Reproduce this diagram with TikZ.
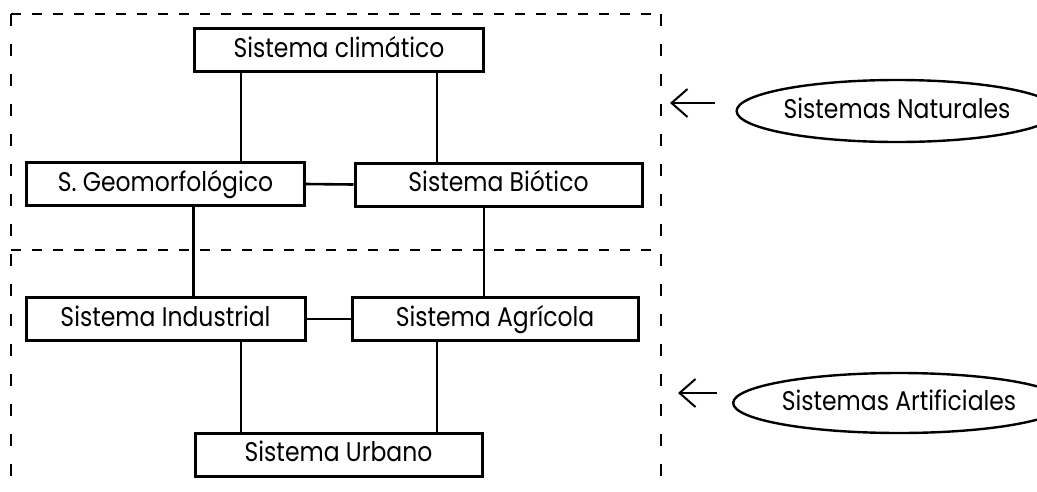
\documentclass[tikz,border=0pt]{standalone}
\usepackage{fontspec}
\setmainfont[FakeStretch=0.87]{Poppins}
\usetikzlibrary{arrows.meta,shapes.geometric}
\begin{document}
\begin{tikzpicture}[x=1pt,y=-1pt,
  txt/.style={font=\fontsize{27}{29}\selectfont,text height=19pt,text depth=5pt},
  box/.style={txt,draw,line width=3pt,minimum height=43pt,inner sep=0pt},
  link/.style={line width=2.6pt},
  hdash/.style={line width=1.8pt,dash pattern=on 10pt off 11pt},
  vdash/.style={line width=1.8pt,dash pattern=on 12pt off 18pt},
  oval/.style={txt,draw,ellipse,line width=2.4pt,inner sep=0pt},
  pointer/.style={line width=2pt,-{Straight Barb[length=16pt,width=28pt,line width=2pt]}}]
\useasboundingbox[fill=white] (0,0) rectangle (1037,491);
% frame
\coordinate (tl) at (11,14);
\coordinate (tr) at (661,14);
\coordinate (bl) at (11,491);
\coordinate (br) at (661,491);
\coordinate (ml) at (11,250);
\coordinate (mr) at (661,250);
\draw[hdash] (tl) -- (tr);
\draw[hdash] (ml) -- (mr);
\draw[vdash] (tl) -- (bl);
\draw[vdash] (tr) -- (br);
% boxes
\node[box,minimum width=289pt] (clim) at (339,50) {Sistema climático};
\node[box,minimum width=278pt] (geo) at (165.5,184) {S. Geomorfológico};
\node[box,minimum width=287pt] (bio) at (498.5,184.5) {Sistema Biótico};
\node[box,minimum width=279pt] (ind) at (165.5,319) {Sistema Industrial};
\node[box,minimum width=286pt] (agr) at (495,319) {Sistema Agrícola};
\node[box,minimum width=287pt] (urb) at (338.5,454.5) {Sistema Urbano};
% links
\draw[link] ([xshift=-98pt]clim.south) -- ([xshift=-98pt]clim.south |- geo.north);
\draw[link] ([xshift=98pt]clim.south) -- ([xshift=98pt]clim.south |- bio.north);
\draw[link] (geo.east) -- (bio.west);
\draw[link] ([xshift=28pt]geo.south) -- ([xshift=28pt]geo.south |- ind.north);
\draw[link] ([xshift=-14.5pt]bio.south) -- ([xshift=-14.5pt]bio.south |- agr.north);
\draw[link] (ind.east) -- (agr.west);
\draw[link] ([xshift=-97.5pt]urb.north) -- ([xshift=-97.5pt]urb.north |- ind.south);
\draw[link] ([xshift=98.5pt]urb.north) -- ([xshift=98.5pt]urb.north |- agr.south);
% labels
\node[oval,minimum width=278pt,minimum height=62pt] (nat) at (897,111) {Sistemas Naturales};
\node[oval,minimum width=274pt,minimum height=60pt] (art) at (899,403) {Sistemas Artificiales};
\coordinate (natTip) at (670,103);
\coordinate (artTip) at (678,393);
\draw[pointer,shorten <=20pt] (nat.west |- natTip) -- (natTip);
\draw[pointer,shorten <=15pt] (art.west |- artTip) -- (artTip);
\end{tikzpicture}
\end{document}
